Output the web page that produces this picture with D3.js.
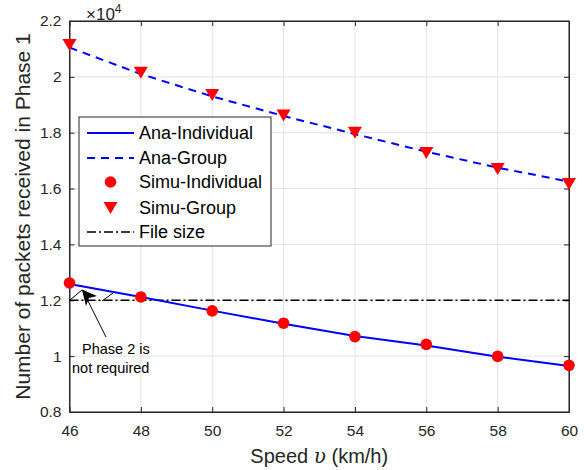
<!DOCTYPE html>
<html><head><meta charset="utf-8">
<script src="https://cdn.jsdelivr.net/npm/d3@7"></script>
<style>body{margin:0;background:#fff}svg{display:block;font-family:"Liberation Sans",Arial,Helvetica,sans-serif}</style>
</head><body><svg id="c" width="584" height="470"></svg>
<script>
const speeds = [46,48,50,52,54,56,58,60];
const anaIndividual = [1.258,1.212,1.163,1.116,1.072,1.038,0.998,0.965];
const anaGroup = [2.105,2.010,1.930,1.860,1.795,1.732,1.675,1.625];
const simuIndividual = [1.262,1.212,1.162,1.118,1.070,1.042,0.999,0.967];
const simuGroup = [2.114,2.015,1.935,1.862,1.800,1.727,1.670,1.616];
const fileSize = 1.2;
const xTicks = [46,48,50,52,54,56,58,60];
const yTicks = [0.8,1,1.2,1.4,1.6,1.8,2,2.2];
const legendLabels = ["Ana-Individual","Ana-Group","Simu-Individual","Simu-Group","File size"];

const svg = d3.select("#c");
const L=69.5,R=569,T=21,B=412;
const x = d3.scaleLinear().domain([46,60]).range([L,R]);
const y = d3.scaleLinear().domain([0.8,2.2]).range([B,T]);
const axisCol="#262626", gridCol="#e3e3e3";

// grid
svg.append("g").selectAll("line").data(xTicks).join("line")
  .attr("x1",d=>x(d)).attr("x2",d=>x(d)).attr("y1",T).attr("y2",B)
  .attr("stroke",gridCol).attr("stroke-width",1);
svg.append("g").selectAll("line").data(yTicks).join("line")
  .attr("x1",L).attr("x2",R).attr("y1",d=>y(d)).attr("y2",d=>y(d))
  .attr("stroke",gridCol).attr("stroke-width",1);

// axes
const fmt = d=>String(+d.toFixed(1));
const gx = svg.append("g").attr("transform",`translate(0,${B})`)
  .call(d3.axisBottom(x).tickValues(xTicks).tickFormat(d=>d).tickSizeInner(-5).tickSizeOuter(0).tickPadding(13));
const gxt = svg.append("g").attr("transform",`translate(0,${T})`)
  .call(d3.axisTop(x).tickValues(xTicks).tickFormat("").tickSizeInner(-5).tickSizeOuter(0));
const gy = svg.append("g").attr("transform",`translate(${L},0)`)
  .call(d3.axisLeft(y).tickValues(yTicks).tickFormat(fmt).tickSizeInner(-5).tickSizeOuter(0).tickPadding(8));
const gyr = svg.append("g").attr("transform",`translate(${R},0)`)
  .call(d3.axisRight(y).tickValues(yTicks).tickFormat("").tickSizeInner(-5).tickSizeOuter(0));
[gx,gxt,gy,gyr].forEach(g=>{
  g.selectAll("path").attr("stroke",axisCol);
  g.selectAll("line").attr("stroke",axisCol);
  g.selectAll("text").attr("fill","#262626").style("font-size","15.5px").style("font-family","Liberation Sans, Arial, sans-serif");
});
gx.selectAll("text").attr("dy","0.71em");

// exponent
const ex = svg.append("text").attr("x",86).attr("y",20).attr("fill","#262626")
  .style("font-size","17px");
ex.append("tspan").text("\u00d710");
ex.append("tspan").attr("dy",-7).style("font-size","12px").text("4");

// box border
svg.append("rect").attr("x",L).attr("y",T).attr("width",R-L).attr("height",B-T)
  .attr("fill","none").attr("stroke",axisCol).attr("stroke-width",1);

const line = d3.line().x((d,i)=>x(speeds[i])).y(d=>y(d));

// file size
svg.append("line").attr("x1",x(46)).attr("x2",x(60)).attr("y1",y(fileSize)).attr("y2",y(fileSize))
  .attr("stroke","#000").attr("stroke-width",1.5).attr("stroke-dasharray","9,3,2,3");

svg.append("path").datum(anaGroup).attr("d",line).attr("fill","none")
  .attr("stroke","#0000ff").attr("stroke-width",2).attr("stroke-dasharray","8,6");
svg.append("path").datum(anaIndividual).attr("d",line).attr("fill","none")
  .attr("stroke","#0000ff").attr("stroke-width",2);

const tri = (cx,cy)=>`M${cx-7},${cy-6}L${cx+7},${cy-6}L${cx},${cy+6}Z`;
svg.append("g").selectAll("path").data(simuGroup).join("path")
  .attr("d",(d,i)=>tri(x(speeds[i]),y(d))).attr("fill","#ff0000");
svg.append("g").selectAll("circle").data(simuIndividual).join("circle")
  .attr("cx",(d,i)=>x(speeds[i])).attr("cy",d=>y(d)).attr("r",5.8).attr("fill","#ff0000");

// annotation
const ann = svg.append("g").attr("stroke","#000").attr("stroke-width",1).attr("fill","none");
ann.append("line").attr("x1",70).attr("y1",300).attr("x2",82).attr("y2",290);
ann.append("line").attr("x1",82).attr("y1",290).attr("x2",95).attr("y2",296);
ann.append("line").attr("x1",102).attr("y1",301).attr("x2",113).attr("y2",293);
ann.append("line").attr("x1",106).attr("y1",337).attr("x2",84).attr("y2",293);
svg.append("path").attr("d","M82,290L97,296L89,298L86,306Z").attr("fill","#000");
const at = svg.append("g").style("font-size","14.5px").attr("fill","#000");
at.append("text").attr("x",82).attr("y",354).text("Phase 2 is");
at.append("text").attr("x",72).attr("y",373).text("not required");

// legend
const lg = svg.append("g");
lg.append("rect").attr("x",79).attr("y",117).attr("width",192).attr("height",129)
  .attr("fill","#fff").attr("stroke","#262626").attr("stroke-width",1);
const ly = [133,158,182,208,232];
lg.append("line").attr("x1",87).attr("x2",134).attr("y1",ly[0]).attr("y2",ly[0]).attr("stroke","#0000ff").attr("stroke-width",2);
lg.append("line").attr("x1",87).attr("x2",134).attr("y1",ly[1]).attr("y2",ly[1]).attr("stroke","#0000ff").attr("stroke-width",2).attr("stroke-dasharray","8,6");
lg.append("circle").attr("cx",110.5).attr("cy",ly[2]).attr("r",5.8).attr("fill","#ff0000");
lg.append("path").attr("d",tri(110.5,ly[3])).attr("fill","#ff0000");
lg.append("line").attr("x1",87).attr("x2",134).attr("y1",ly[4]).attr("y2",ly[4]).attr("stroke","#000").attr("stroke-width",1.5).attr("stroke-dasharray","9,3,2,3");
lg.selectAll("text.l").data(legendLabels).join("text").attr("class","l")
  .attr("x",139).attr("y",(d,i)=>ly[i]).attr("dy","0.36em")
  .style("font-size","18px").attr("fill","#000").text(d=>d);

// axis labels
const xl = svg.append("text").attr("x",(L+R)/2).attr("y",463).attr("text-anchor","middle")
  .style("font-size","20px").attr("fill","#262626");
xl.append("tspan").text("Speed ");
xl.append("tspan").style("font-family","DejaVu Serif, serif").style("font-style","italic").text("\u03c5");
xl.append("tspan").text(" (km/h)");
svg.append("text").attr("transform",`translate(30,${(T+B)/2}) rotate(-90)`).attr("text-anchor","middle")
  .style("font-size","21px").attr("fill","#262626").text("Number of packets received in Phase 1");
</script></body></html>
